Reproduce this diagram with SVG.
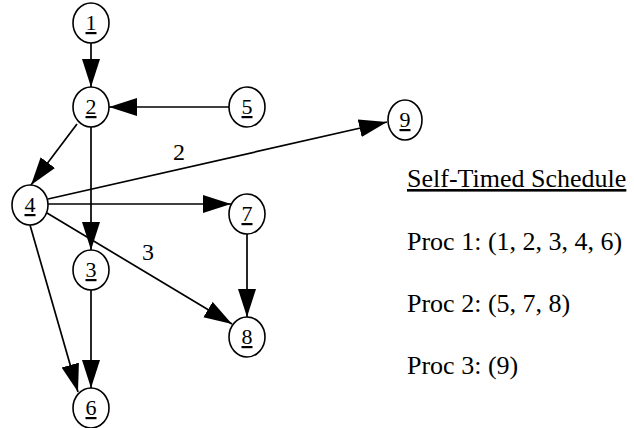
<svg xmlns="http://www.w3.org/2000/svg" width="634" height="428" viewBox="0 0 634 428">
<style>
.n ellipse{fill:#fff;stroke:#000;stroke-width:1.6}
.n text{font-family:"Liberation Serif","Times New Roman",serif;font-size:22px;text-anchor:middle;text-decoration:underline}
.e line{stroke:#000;stroke-width:1.7;marker-end:url(#ah)}
.lbl{font-family:"Liberation Serif","Times New Roman",serif;font-size:24px;text-anchor:middle}
.t{font-family:"Liberation Serif","Times New Roman",serif;font-size:26px}
</style>
<defs>
<marker id="ah" markerUnits="userSpaceOnUse" markerWidth="30" markerHeight="20" refX="28" refY="9" orient="auto" viewBox="0 0 30 20">
<path d="M0,0 L28,9 L0,18 Z" fill="#000"/>
</marker>
</defs>
<rect width="634" height="428" fill="#fff"/>
<g id="edges" class="e">
<line x1="91" y1="43" x2="91" y2="87"/>
<line x1="229" y1="107" x2="109" y2="107"/>
<line x1="77" y1="124" x2="31" y2="185"/>
<line x1="91" y1="127" x2="91" y2="250"/>
<line x1="48" y1="199" x2="387" y2="122"/>
<line x1="48" y1="204" x2="231" y2="204"/>
<line x1="47" y1="213" x2="232" y2="324"/>
<line x1="30" y1="225" x2="78" y2="392"/>
<line x1="91" y1="290" x2="91" y2="388"/>
<line x1="247" y1="234" x2="247" y2="317"/>
</g>
<text class="lbl" x="179" y="160">2</text>
<text class="lbl" x="148" y="260">3</text>
<g id="node1" class="n"><ellipse cx="91" cy="23" rx="18" ry="20"/><text x="91" y="30">1</text></g>
<g id="node2" class="n"><ellipse cx="91" cy="107" rx="18" ry="20"/><text x="91" y="114">2</text></g>
<g id="node5" class="n"><ellipse cx="247" cy="107" rx="18" ry="20"/><text x="247" y="114">5</text></g>
<g id="node4" class="n"><ellipse cx="30" cy="205" rx="18" ry="20"/><text x="30" y="212">4</text></g>
<g id="node7" class="n"><ellipse cx="247" cy="214" rx="18" ry="20"/><text x="247" y="221">7</text></g>
<g id="node3" class="n"><ellipse cx="91" cy="270" rx="18" ry="20"/><text x="91" y="277">3</text></g>
<g id="node8" class="n"><ellipse cx="247" cy="337" rx="18" ry="20"/><text x="247" y="344">8</text></g>
<g id="node6" class="n"><ellipse cx="91" cy="408" rx="18" ry="20"/><text x="91" y="415">6</text></g>
<g id="node9" class="n"><ellipse cx="405" cy="120" rx="17" ry="20"/><text x="405" y="127">9</text></g>
<g id="schedule">
<text class="t" x="407" y="187" text-decoration="underline">Self-Timed Schedule</text>
<text class="t" x="407" y="250">Proc 1: (1, 2, 3, 4, 6)</text>
<text class="t" x="407" y="312">Proc 2: (5, 7, 8)</text>
<text class="t" x="407" y="374">Proc 3: (9)</text>
</g>
</svg>
